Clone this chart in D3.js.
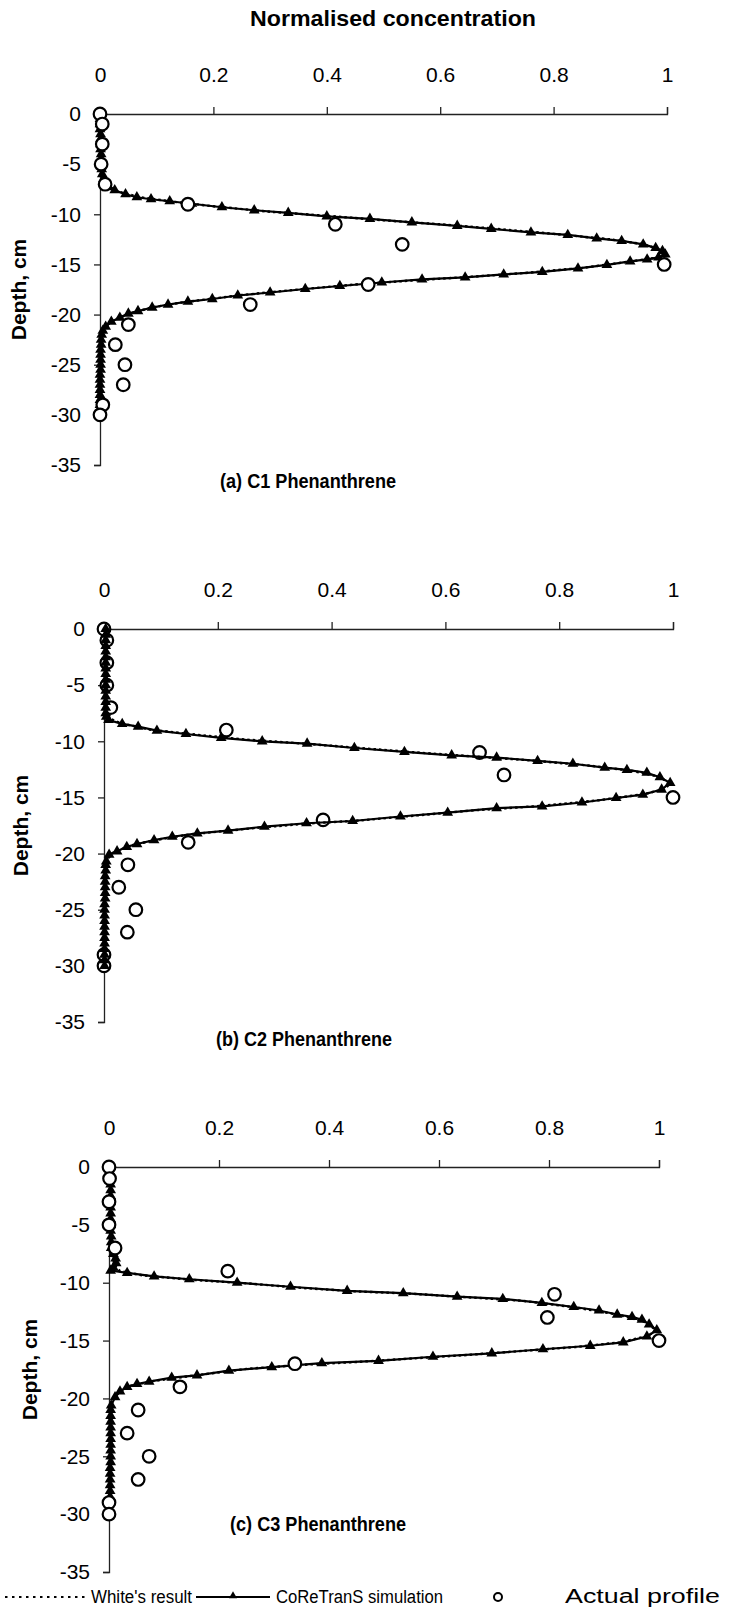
<!DOCTYPE html>
<html>
<head>
<meta charset="utf-8">
<script src="https://cdn.jsdelivr.net/npm/d3@7"></script>
<style>
  body { margin: 0; background: #fff; }
  svg { display: block; font-family: "Liberation Sans", Arial, sans-serif; }
</style>
</head>
<body>
<div id="chart"></div>
<script>
// Tick values and titles
const xTicks = [0, 0.2, 0.4, 0.6, 0.8, 1];
const yTicks = [0, -5, -10, -15, -20, -25, -30, -35];
const panelTitles = ["(a) C1 Phenanthrene", "(b) C2 Phenanthrene", "(c) C3 Phenanthrene"];
const legendLabels = ["White's result", "CoReTranS simulation", "Actual profile"];

// Actual profile (circles): depth, cm and normalised concentration per core
const obsDepth = [0, -1, -3, -5, -7, -9, -11, -13, -15, -17, -19, -21, -23, -25, -27, -29, -30];
const obsC1 = [0, 0.004, 0.004, 0.002, 0.009, 0.155, 0.415, 0.533, 0.995, 0.473, 0.265, 0.05, 0.027, 0.044, 0.041, 0.005, 0];
const obsC2 = [0, 0.005, 0.005, 0.005, 0.012, 0.215, 0.66, 0.703, 1.0, 0.385, 0.148, 0.042, 0.026, 0.056, 0.041, 0, 0];
const obsC3 = [0, 0.001, 0, 0, 0.011, 0.216, 0.81, 0.797, 1.0, 0.338, 0.129, 0.053, 0.033, 0.073, 0.053, 0, 0];

// CoReTranS simulation [conc, depth]
const simC1 = [
  [0,0],[0,-0.5],[0,-1],[0,-1.5],[0.001,-2],[0.001,-2.5],[0.001,-3],[0.001,-3.5],[0.002,-4],[0.002,-4.5],
  [0.003,-5],[0.003,-5.5],[0.004,-6],[0.006,-6.5],[0.008,-7],[0.015,-7.3],
  [0.026,-7.6],[0.045,-8.0],[0.065,-8.3],[0.09,-8.5],[0.123,-8.7],[0.162,-8.95],[0.215,-9.3],[0.272,-9.6],
  [0.332,-9.85],[0.40,-10.2],[0.476,-10.45],[0.55,-10.8],[0.63,-11.15],[0.69,-11.45],[0.76,-11.8],[0.825,-12.05],
  [0.876,-12.4],[0.92,-12.65],[0.958,-13.0],[0.98,-13.35],[0.992,-13.65],[0.997,-14.0],[0.985,-14.3],[0.965,-14.5],
  [0.935,-14.7],[0.894,-15.05],[0.843,-15.4],[0.78,-15.75],[0.712,-16.0],[0.644,-16.3],[0.568,-16.5],[0.497,-16.8],
  [0.423,-17.15],[0.362,-17.45],[0.30,-17.8],[0.243,-18.1],[0.198,-18.45],[0.155,-18.7],[0.12,-19.0],[0.092,-19.3],
  [0.067,-19.65],[0.05,-19.9],[0.035,-20.3],[0.02,-20.7],[0.01,-21.2],[0.005,-21.6],
  [0.003,-22],[0.002,-22.5],[0.002,-23],[0.001,-23.5],[0.001,-24],[0.001,-24.5],[0.001,-25],[0.001,-25.5],
  [0,-26],[0,-26.5],[0,-27],[0,-27.5],[0,-28],[0,-28.5],[0,-29],[0,-29.5]
];
const simC2 = [
  [0.003,0],[0.003,-0.5],[0.003,-1],[0.003,-1.5],[0.003,-2],[0.003,-2.5],[0.003,-3],[0.003,-3.5],[0.003,-4],[0.003,-4.5],
  [0.003,-5],[0.003,-5.5],[0.003,-6],[0.003,-6.5],[0.003,-7],[0.003,-7.5],[0.004,-7.8],[0.008,-8.1],
  [0.032,-8.45],[0.06,-8.7],[0.093,-9.05],[0.144,-9.35],[0.206,-9.7],[0.278,-10.0],[0.357,-10.2],[0.44,-10.6],
  [0.528,-10.95],[0.611,-11.25],[0.69,-11.45],[0.762,-11.75],[0.824,-12.0],[0.88,-12.35],[0.919,-12.55],[0.954,-12.8],
  [0.977,-13.2],[0.995,-13.7],[0.98,-14.3],[0.947,-14.75],[0.90,-15.05],[0.84,-15.45],[0.77,-15.8],[0.69,-15.95],
  [0.604,-16.35],[0.521,-16.7],[0.437,-17.1],[0.356,-17.3],[0.282,-17.6],[0.218,-17.95],[0.164,-18.2],[0.12,-18.5],
  [0.088,-18.8],[0.058,-19.15],[0.04,-19.4],[0.023,-19.8],[0.009,-20.1],[0.004,-20.7],
  [0.003,-21],[0.003,-21.5],[0.002,-22],[0.002,-22.5],[0.002,-23],[0.002,-23.5],[0.002,-24],[0.001,-24.5],
  [0.001,-25],[0.001,-25.5],[0.001,-26],[0.001,-26.5],[0.001,-27],[0.001,-27.5],[0.001,-28],[0.001,-28.5],
  [0.001,-29],[0.001,-29.5],[0.001,-30]
];
const simC3 = [
  [0.003,0],[0.003,-0.5],[0.003,-1],[0.003,-1.5],[0.003,-2],[0.003,-2.5],[0.003,-3],[0.003,-3.5],[0.003,-4],[0.003,-4.5],
  [0.003,-5],[0.003,-5.5],[0.004,-6],[0.004,-6.5],[0.004,-7],[0.008,-7.5],[0.012,-7.9],[0.013,-8.3],[0.008,-8.7],
  [0.003,-8.95],[0.033,-9.15],[0.082,-9.45],[0.146,-9.7],[0.233,-10.0],[0.33,-10.35],[0.433,-10.7],[0.535,-10.9],
  [0.633,-11.2],[0.716,-11.4],[0.787,-11.75],[0.845,-12.1],[0.891,-12.4],[0.924,-12.75],[0.951,-12.95],[0.969,-13.2],
  [0.982,-13.6],[0.996,-14.1],[0.978,-14.65],[0.935,-15.15],[0.875,-15.45],[0.789,-15.75],[0.696,-16.1],[0.589,-16.4],
  [0.49,-16.75],[0.387,-16.95],[0.296,-17.3],[0.218,-17.6],[0.16,-18.0],[0.114,-18.2],[0.073,-18.55],[0.051,-18.75],
  [0.033,-19.0],[0.02,-19.4],[0.011,-19.9],[0.004,-20.6],
  [0.003,-21],[0.003,-21.5],[0.003,-22],[0.003,-22.5],[0.003,-23],[0.003,-23.5],[0.003,-24],[0.003,-24.5],
  [0.003,-25],[0.003,-25.5],[0.002,-26],[0.002,-26.5],[0.002,-27],[0.002,-27.5],[0.002,-28],[0.002,-28.5],[0.002,-29]
];

// White's result [conc, depth]
const whiteC1 = [
  [0,0],[0,-2],[0,-4],[0.003,-6],[0.01,-7],[0.03,-7.7],[0.07,-8.3],[0.13,-8.75],[0.2,-9.2],[0.3,-9.75],
  [0.4,-10.15],[0.5,-10.6],[0.6,-11.0],[0.7,-11.45],[0.8,-11.95],[0.9,-12.5],[0.96,-13.0],[0.99,-13.6],[0.995,-14.0],
  [0.98,-14.35],[0.93,-14.75],[0.85,-15.35],[0.75,-15.85],[0.65,-16.25],[0.55,-16.6],[0.45,-17.0],[0.35,-17.5],
  [0.25,-18.05],[0.15,-18.75],[0.09,-19.3],[0.05,-19.95],[0.02,-20.7],[0.008,-21.3],[0.003,-22],[0.001,-25],[0,-29.5]
];
const whiteC2 = [
  [0.002,0],[0.002,-4],[0.003,-7],[0.006,-7.9],[0.03,-8.4],[0.08,-8.95],[0.15,-9.35],[0.25,-9.85],[0.35,-10.2],
  [0.45,-10.6],[0.55,-11.0],[0.65,-11.35],[0.75,-11.7],[0.85,-12.15],[0.93,-12.65],[0.975,-13.15],[0.995,-13.75],
  [0.985,-14.25],[0.95,-14.7],[0.87,-15.25],[0.77,-15.75],[0.65,-16.15],[0.55,-16.6],[0.45,-17.05],[0.35,-17.35],
  [0.25,-17.8],[0.15,-18.3],[0.09,-18.8],[0.045,-19.3],[0.015,-19.95],[0.005,-20.6],[0.002,-21.5],[0.001,-25],[0,-30]
];
const whiteC3 = [
  [0.002,0],[0.003,-5],[0.006,-7.5],[0.01,-8.5],[0.02,-9.0],[0.06,-9.35],[0.15,-9.75],[0.25,-10.05],[0.35,-10.45],
  [0.45,-10.75],[0.55,-10.95],[0.65,-11.25],[0.75,-11.55],[0.85,-12.15],[0.93,-12.8],[0.975,-13.4],[0.995,-14.1],
  [0.98,-14.6],[0.93,-15.15],[0.85,-15.55],[0.75,-15.9],[0.65,-16.25],[0.55,-16.55],[0.45,-16.85],[0.35,-17.1],
  [0.25,-17.45],[0.15,-18.05],[0.08,-18.5],[0.04,-18.9],[0.015,-19.6],[0.005,-20.4],[0.002,-21.5],[0.002,-29]
];

const width = 733, height = 1616;

// Panel placement in the page
const panels = [
  { sim: simC1, white: whiteC1, obs: obsC1, x0: 100, x1: 667, y0: 114, y1: 465, title: [220, 488], ylab: 19, circlesOnTop: true },
  { sim: simC2, white: whiteC2, obs: obsC2, x0: 104, x1: 673, y0: 629, y1: 1022, title: [216, 1046], ylab: 21, circlesOnTop: false },
  { sim: simC3, white: whiteC3, obs: obsC3, x0: 109, x1: 659, y0: 1167, y1: 1572, title: [230, 1531], ylab: 30, circlesOnTop: true }
];

const svg = d3.select("#chart").append("svg")
    .attr("width", width)
    .attr("height", height);

svg.append("text")
    .attr("x", 393)
    .attr("y", 26)
    .attr("text-anchor", "middle")
    .attr("textLength", 286)
    .attr("lengthAdjust", "spacingAndGlyphs")
    .style("font-size", "22px")
    .style("font-weight", "bold")
    .text("Normalised concentration");

const tri = d3.symbol().type(d3.symbolTriangle).size(50);

panels.forEach((p, i) => {
    const x = d3.scaleLinear().domain([0, 1]).range([p.x0, p.x1]);
    const y = d3.scaleLinear().domain([0, -35]).range([p.y0, p.y1]);

    const g = svg.append("g");

    // Axes
    const xAxis = g.append("g")
        .attr("transform", `translate(0,${p.y0})`)
        .call(d3.axisTop(x).tickValues(xTicks).tickSize(7).tickPadding(25).tickFormat(d => String(d)));
    const yAxis = g.append("g")
        .attr("transform", `translate(${p.x0},0)`)
        .call(d3.axisLeft(y).tickValues(yTicks).tickSize(6).tickPadding(13).tickFormat(d => String(d)));
    [xAxis, yAxis].forEach(a => {
        a.selectAll("path, line").attr("stroke", "#222").attr("stroke-width", 1.3);
        a.selectAll("text").style("font-size", "21px").attr("fill", "#000").style("font-family", "'Liberation Sans', Arial, sans-serif");
    });

    // Axis title
    g.append("text")
        .attr("transform", `translate(${p.ylab + 7},${(p.y0 + p.y1) / 2}) rotate(-90)`)
        .attr("text-anchor", "middle")
        .style("font-size", "21px")
        .style("font-weight", "bold")
        .text("Depth, cm");

    // Panel title
    g.append("text")
        .attr("x", p.title[0])
        .attr("y", p.title[1])
        .attr("textLength", 176)
        .attr("lengthAdjust", "spacingAndGlyphs")
        .style("font-size", "20px")
        .style("font-weight", "bold")
        .text(panelTitles[i]);

    const line = d3.line().x(d => x(d[0])).y(d => y(d[1]));
    const obs = obsDepth.map((dep, k) => [p.obs[k], dep]);

    const drawCircles = () => g.append("g").selectAll("circle")
        .data(obs)
        .enter().append("circle")
        .attr("cx", d => x(d[0]))
        .attr("cy", d => y(d[1]))
        .attr("r", 6.3)
        .attr("fill", "#fff")
        .attr("stroke", "#000")
        .attr("stroke-width", 2.2);

    if (!p.circlesOnTop) drawCircles();

    g.append("path")
        .attr("d", line(p.sim))
        .attr("fill", "none")
        .attr("stroke", "#000")
        .attr("stroke-width", 2.2);

    g.append("path")
        .attr("d", line(p.white))
        .attr("fill", "none")
        .attr("stroke", "#000")
        .attr("stroke-width", 2.4)
        .attr("stroke-dasharray", "2.5,3");

    g.append("g").selectAll("path")
        .data(p.sim)
        .enter().append("path")
        .attr("d", tri)
        .attr("transform", d => `translate(${x(d[0])},${y(d[1])})`)
        .attr("fill", "#000");

    if (p.circlesOnTop) drawCircles();
});

// Legend
const lg = svg.append("g").attr("transform", "translate(0,1597)");
lg.append("line")
    .attr("x1", 5).attr("x2", 88).attr("y1", 0).attr("y2", 0)
    .attr("stroke", "#000").attr("stroke-width", 2).attr("stroke-dasharray", "2.5,4.5");
lg.append("line")
    .attr("x1", 196).attr("x2", 270).attr("y1", 0).attr("y2", 0)
    .attr("stroke", "#000").attr("stroke-width", 1.8);
lg.append("path")
    .attr("d", d3.symbol().type(d3.symbolTriangle).size(28))
    .attr("transform", "translate(233,-1)")
    .attr("fill", "#000");
lg.append("circle")
    .attr("cx", 498).attr("cy", 0).attr("r", 4)
    .attr("fill", "#fff").attr("stroke", "#000").attr("stroke-width", 2);
[[91, 0, 101, 18], [276, 1, 167, 18], [565, 2, 155, 20]].forEach(([lx, k, len, fs]) => {
    lg.append("text")
        .attr("x", lx)
        .attr("y", 6)
        .attr("textLength", len)
        .attr("lengthAdjust", "spacingAndGlyphs")
        .style("font-size", fs + "px")
        .text(legendLabels[k]);
});
</script>
</body>
</html>
